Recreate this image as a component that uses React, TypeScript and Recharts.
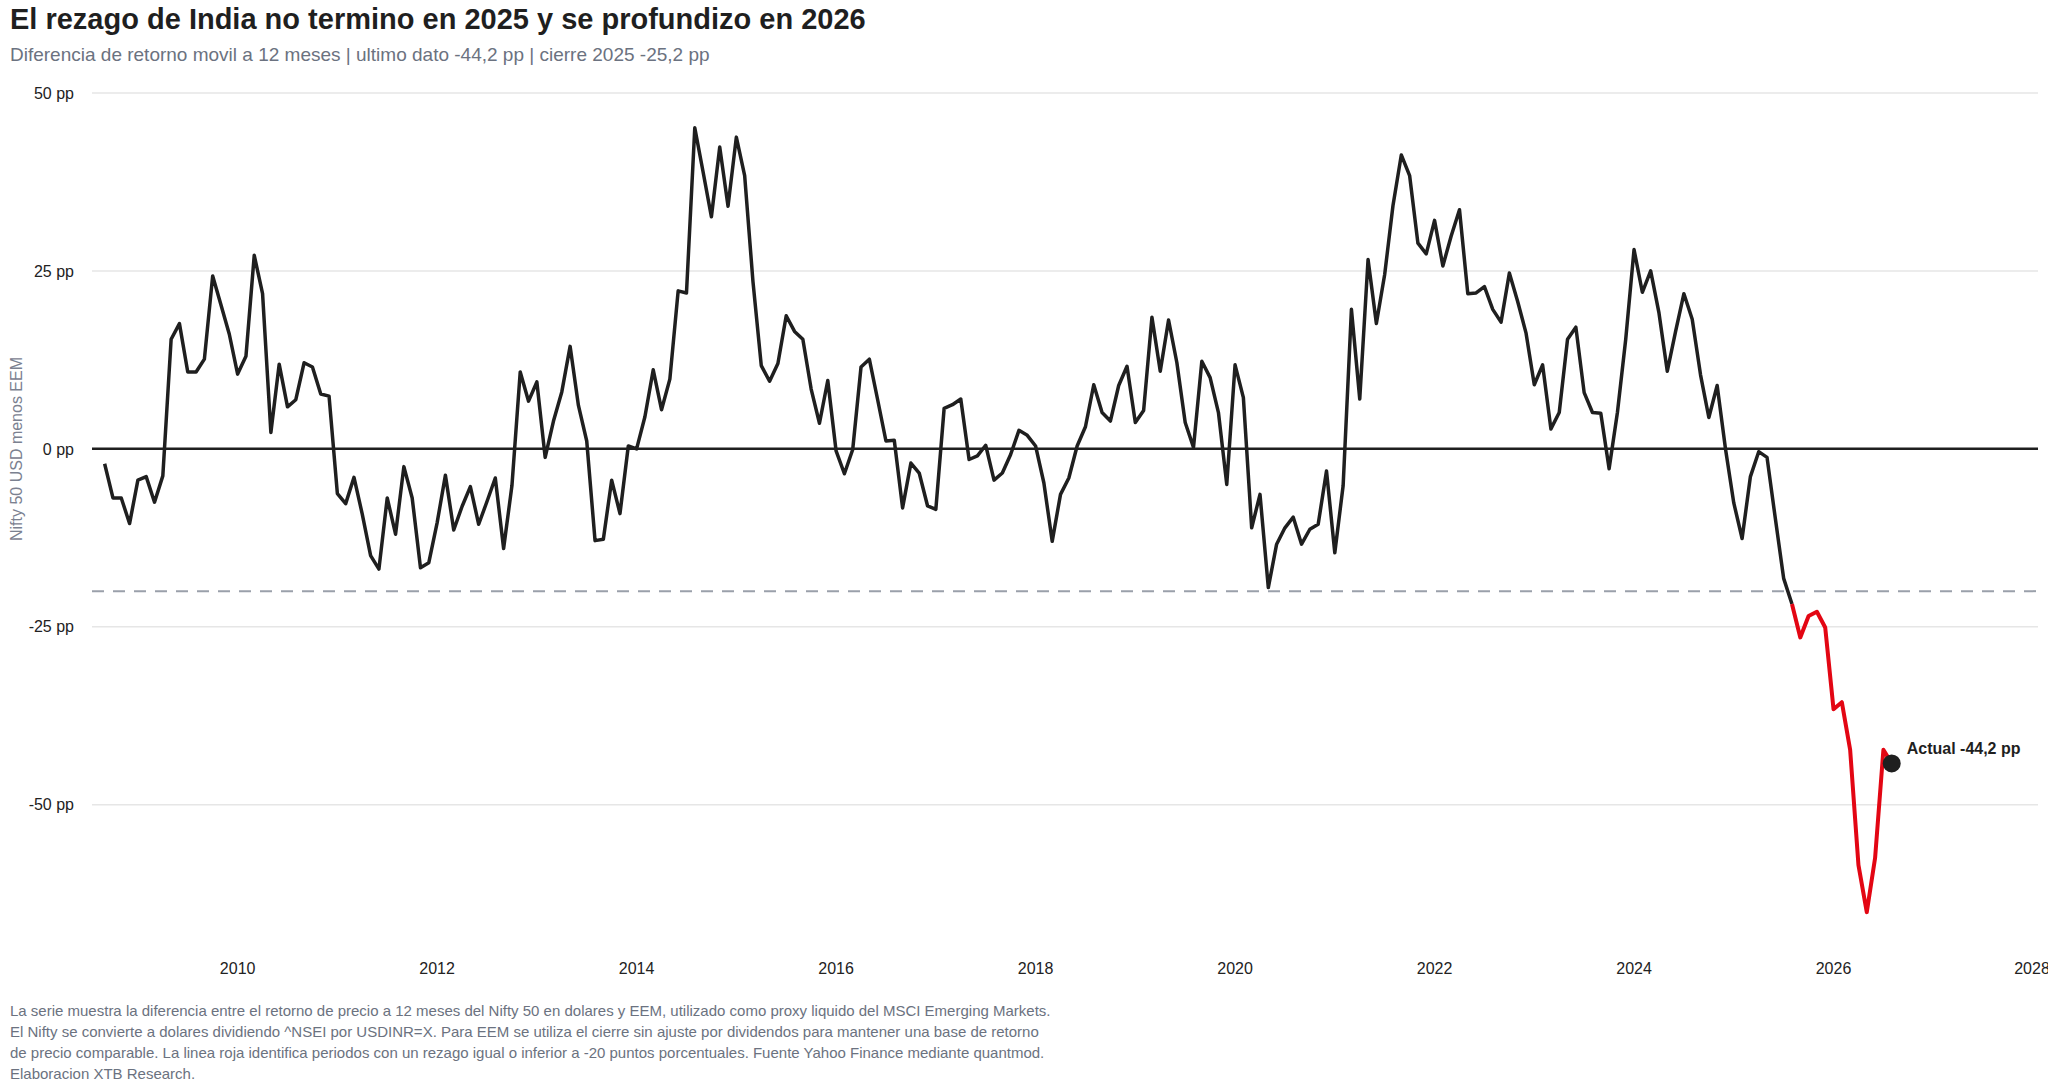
import React from 'react';
import { LineChart, Line, XAxis, YAxis, CartesianGrid, ReferenceLine, ReferenceDot } from 'recharts';

const START_YEAR = 2008;
const START_MONTH = 9;
const seg2008to2011 = [-2.1,-6.9,-6.9,-10.5,-4.4,-3.9,-7.5,-3.8,15.4,17.6,10.8,10.8,12.6,24.3,20.2,16.1,10.5,13.0,27.2,21.8,2.3,11.9,5.9,6.9,12.1,11.5,7.7,7.4,-6.3,-7.7,-4.0,-9.2,-15.0,-16.9,-6.9,-12.0,-2.5,-6.9,-16.7,-16.0];
const seg2012to2015 = [-10.4,-3.7,-11.4,-8.1,-5.3,-10.6,-7.4,-4.1,-14.0,-5.2,10.8,6.7,9.4,-1.2,3.9,8.0,14.4,6.1,1.1,-12.9,-12.7,-4.4,-9.1,0.4,0.0,4.5,11.1,5.5,9.8,22.2,21.9,45.1,38.9,32.6,42.4,34.1,43.8,38.4,23.5];
const seg2015to2018 = [11.7,9.5,12.0,18.7,16.5,15.4,8.4,3.6,9.6,-0.3,-3.5,-0.1,11.5,12.6,6.9,1.1,1.2,-8.3,-2.0,-3.4,-8.0,-8.5,5.7,6.2,7.0,-1.5,-1.0,0.5,-4.4,-3.4,-0.8,2.6,1.9,0.4,-4.8,-13.0,-6.4,-4.1,0.4,3.1];
const seg2018to2021 = [9.0,5.1,3.9,8.9,11.6,3.7,5.4,18.5,10.9,18.1,12.1,3.7,0.2,12.3,10.0,5.1,-5.0,11.8,7.2,-11.1,-6.4,-19.5,-13.4,-11.1,-9.6,-13.4,-11.3,-10.6,-3.1,-14.6,-5.2,19.6,7.0,26.6,17.6,24.5,34.2,41.3,38.4];
const seg2021to2025 = [28.9,27.4,32.1,25.7,29.9,33.6,21.8,21.9,22.8,19.6,17.8,24.7,20.7,16.3,9.0,11.8,2.8,5.1,15.4,17.1,7.9,5.1,5.0,-2.8,5.1,15.4,28.0,22.0,25.0,19.1,10.9,16.5,21.8,18.2,10.4,4.4,8.9,0.0,-7.6,-12.6];
const seg2025to2026 = [-3.9,-0.4,-1.2,-9.8,-18.2,-21.8,-26.5,-23.5,-22.9,-25.1,-36.6,-35.6,-42.3,-58.5,-65.1,-57.5,-42.3,-44.2];

const THRESHOLD = -20;
const yTicks = [-50, -25, 0, 25, 50];
const xTicks = [2010, 2012, 2014, 2016, 2018, 2020, 2022, 2024, 2026, 2028];

const allValues = [...seg2008to2011, ...seg2012to2015, ...seg2015to2018, ...seg2018to2021, ...seg2021to2025, ...seg2025to2026];
const redStart = allValues.findIndex((v) => v <= THRESHOLD);
const data = allValues.map((v, i) => ({
  x: START_YEAR + (START_MONTH - 1 + i) / 12,
  black: i <= redStart ? v : null,
  red: i >= redStart ? v : null,
}));
const last = data[data.length - 1];
const lastValue = allValues[allValues.length - 1];

const fmt = (v: number) => `${v} pp`;

const DotLabel = (props: any) => {
  const { viewBox } = props;
  const cx = viewBox.x + viewBox.width / 2;
  const cy = viewBox.y + viewBox.height / 2;
  return (
    <text x={cx + 15} y={cy - 9} fontSize={16} fontWeight={700} fill="#1f1f1f" fontFamily="Liberation Sans, Arial, sans-serif">
      {`Actual ${String(lastValue).replace('.', ',')} pp`}
    </text>
  );
};

export default function App() {
  const font = 'Liberation Sans, Arial, sans-serif';
  return (
    <div style={{ position: 'absolute', left: 0, top: 0, width: 2048, height: 1092, background: '#fff', fontFamily: font }}>
      <div style={{ position: 'absolute', left: 10, top: 3, fontSize: 29, fontWeight: 700, color: '#1f1f1f' }}>
        El rezago de India no termino en 2025 y se profundizo en 2026
      </div>
      <div style={{ position: 'absolute', left: 10, top: 44, fontSize: 19, color: '#6b7280' }}>
        Diferencia de retorno movil a 12 meses | ultimo dato -44,2 pp | cierre 2025 -25,2 pp
      </div>
      <div style={{ position: 'absolute', left: 4, top: 449, width: 26, height: 0 }}>
        <div style={{ position: 'absolute', left: 0, top: 0, transform: 'translate(-50%, -50%) rotate(-90deg)', transformOrigin: 'center', whiteSpace: 'nowrap', fontSize: 16, color: '#7b8190', marginLeft: 13 }}>
          Nifty 50 USD menos EEM
        </div>
      </div>
      <div style={{ position: 'absolute', left: 0, top: 0 }}>
        <LineChart width={2048} height={1000} data={data} margin={{ top: 93, right: 10, left: 0, bottom: 0 }}>
          <CartesianGrid vertical={false} stroke="#e6e6e6" strokeWidth={1.5} horizontalValues={yTicks} />
          <XAxis dataKey="x" type="number" domain={[2008.54, 2028.05]} ticks={xTicks} allowDataOverflow
            tickLine={false} axisLine={false} height={53} tickMargin={10}
            tick={{ fontSize: 16, fill: '#222', fontFamily: font }} />
          <YAxis type="number" domain={[-70, 50]} ticks={yTicks} allowDataOverflow width={92}
            tickLine={false} axisLine={false} tickMargin={12} tickFormatter={fmt}
            tick={{ fontSize: 16, fill: '#222', fontFamily: font }} />
          <ReferenceLine y={0} stroke="#1f1f1f" strokeWidth={2.5} />
          <ReferenceLine y={THRESHOLD} stroke="#9aa0aa" strokeWidth={2} strokeDasharray="12 9" />
          <Line dataKey="black" stroke="#1f1f1f" strokeWidth={3.5} dot={false} isAnimationActive={false} connectNulls={false} strokeLinejoin="round" />
          <Line dataKey="red" stroke="#e30613" strokeWidth={4} dot={false} isAnimationActive={false} connectNulls={false} strokeLinejoin="round" />
          <ReferenceDot x={last.x} y={lastValue} r={9} fill="#1f1f1f" stroke="none" label={<DotLabel />} />
        </LineChart>
      </div>
      <div style={{ position: 'absolute', left: 10, top: 1000, width: 1045, fontSize: 15, lineHeight: '21px', color: '#6b7280' }}>
        La serie muestra la diferencia entre el retorno de precio a 12 meses del Nifty 50 en dolares y EEM, utilizado como proxy liquido del MSCI Emerging Markets. El Nifty se convierte a dolares dividiendo ^NSEI por USDINR=X. Para EEM se utiliza el cierre sin ajuste por dividendos para mantener una base de retorno de precio comparable. La linea roja identifica periodos con un rezago igual o inferior a -20 puntos porcentuales. Fuente Yahoo Finance mediante quantmod. Elaboracion XTB Research.
      </div>
    </div>
  );
}
